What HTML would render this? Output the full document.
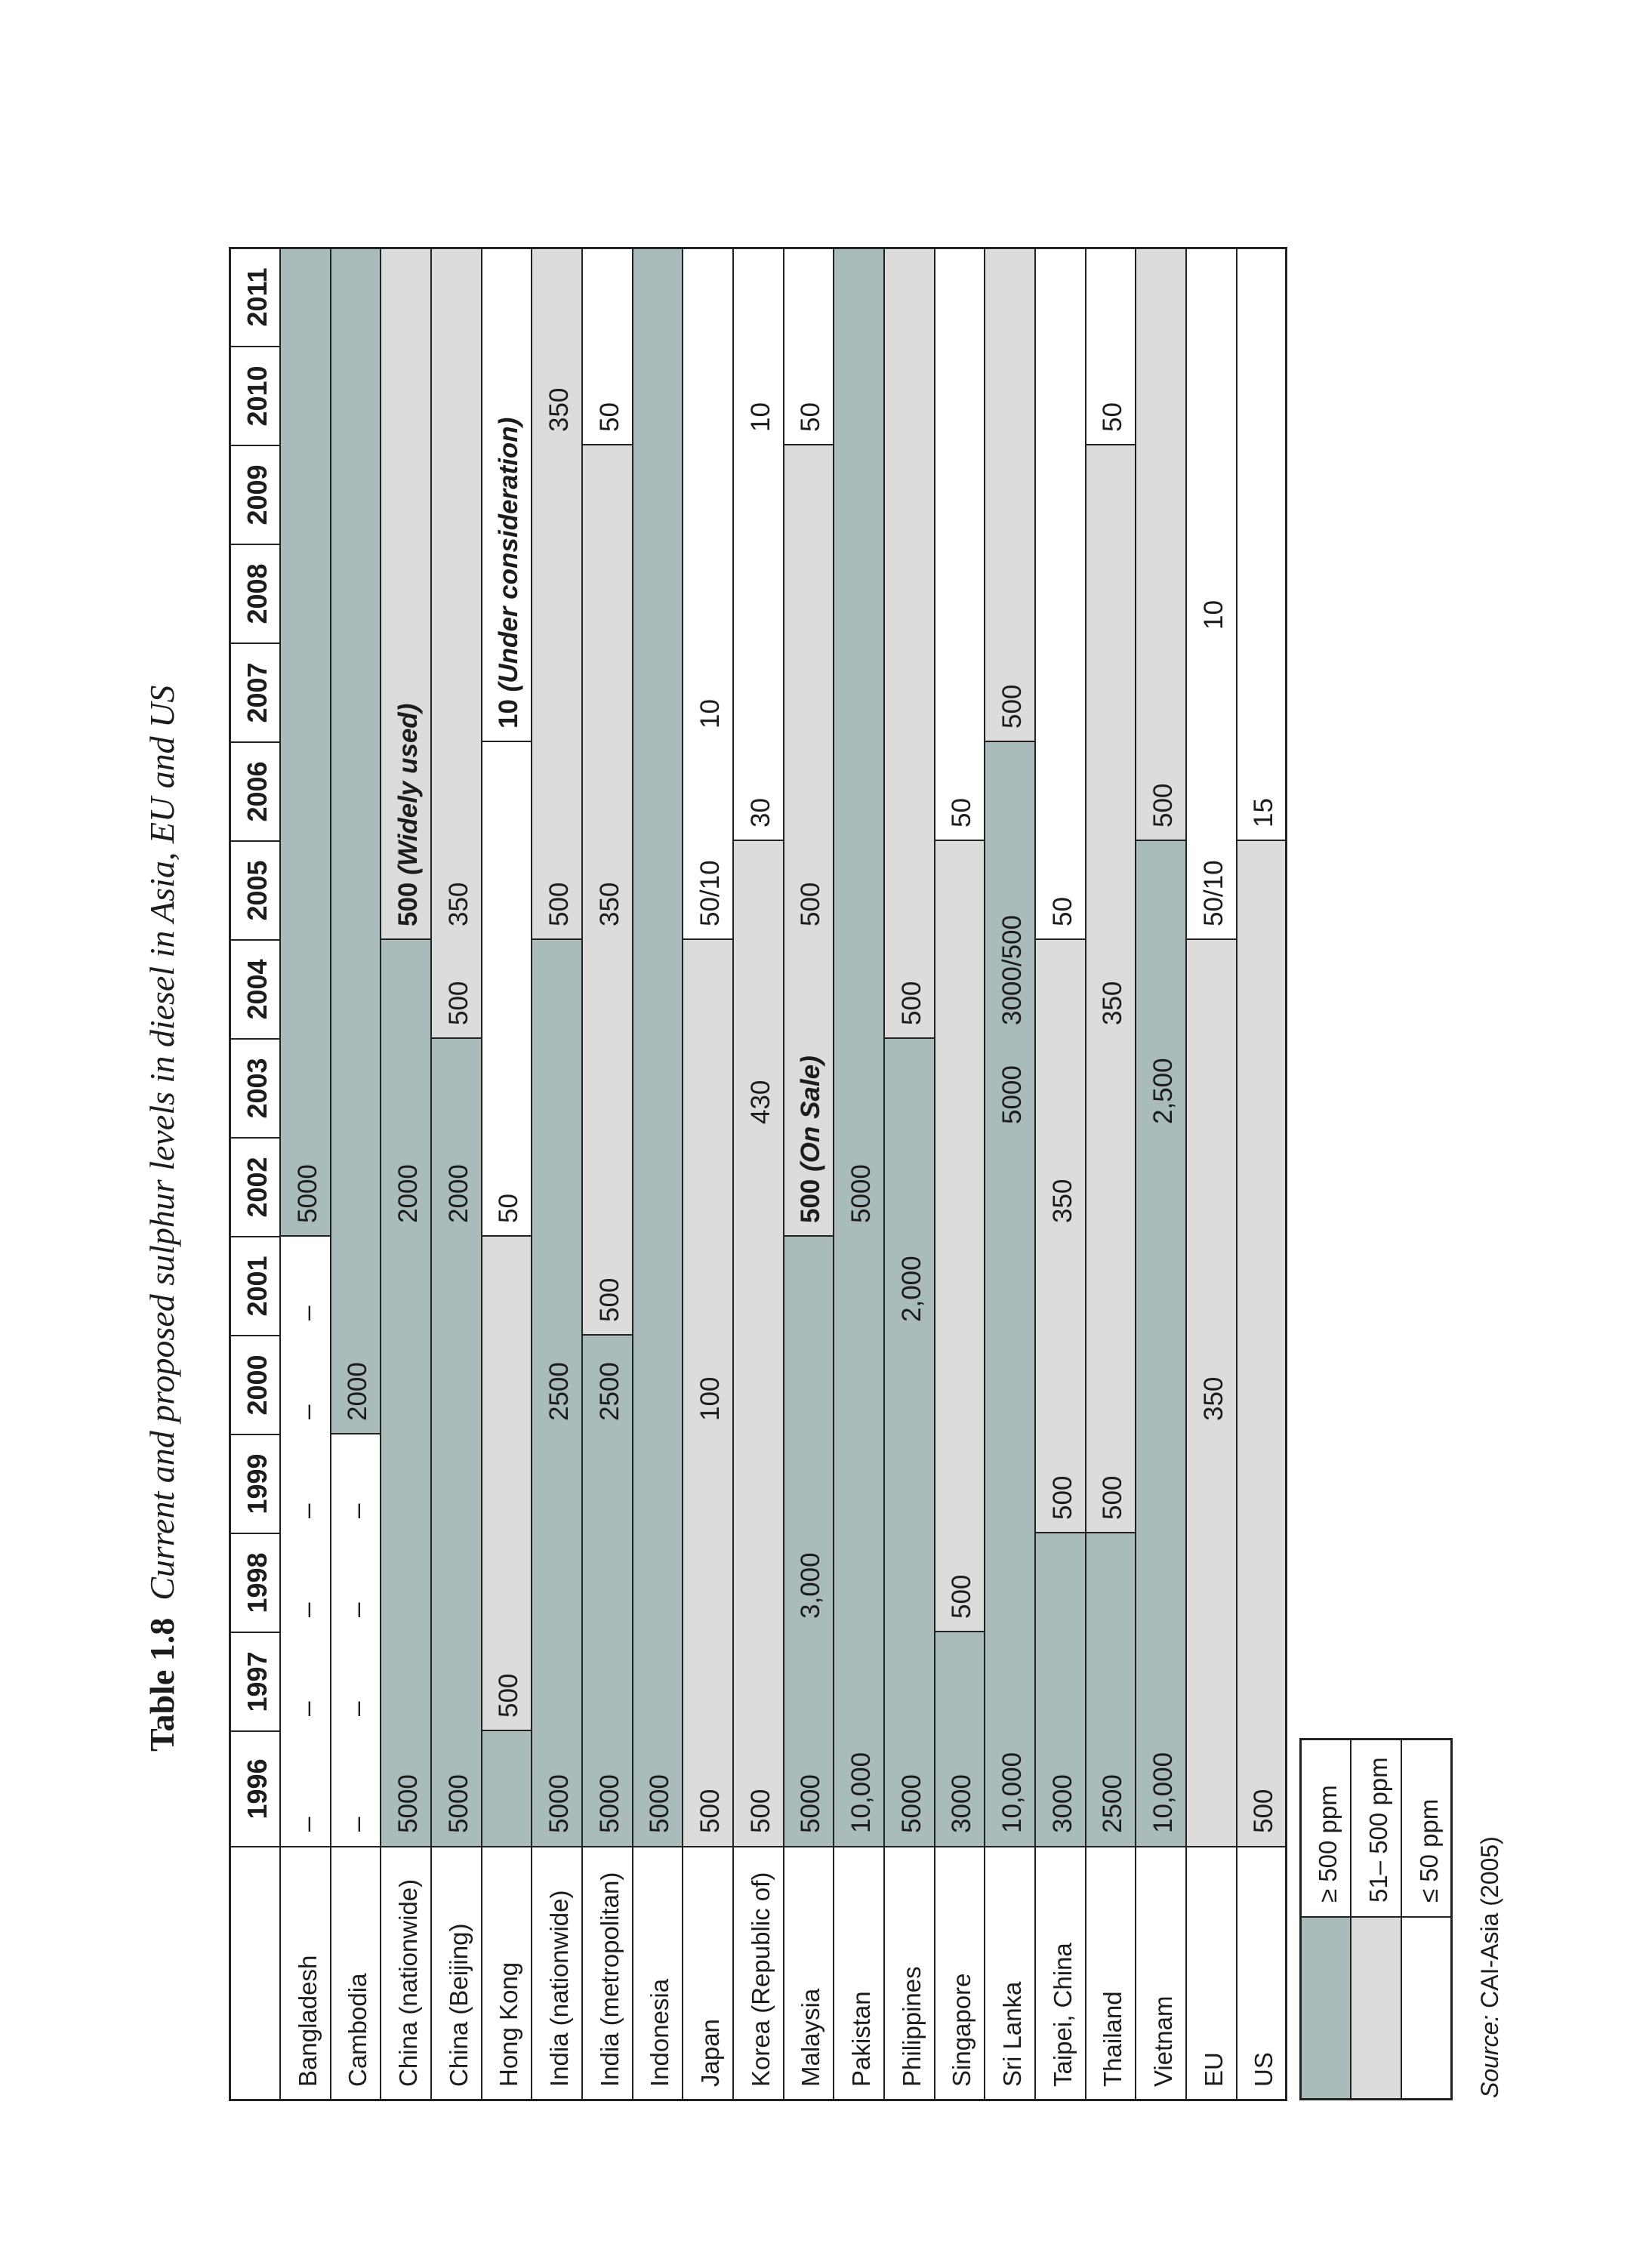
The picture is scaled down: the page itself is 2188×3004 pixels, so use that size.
<!DOCTYPE html>
<html><head><meta charset="utf-8"><style>
html,body{margin:0;padding:0;background:#fff}
body{width:2188px;height:3004px;overflow:hidden;position:relative;font-family:"Liberation Sans",sans-serif;color:#1c1c1c}
#rot{position:absolute;left:0;top:0;width:3004px;height:2188px;transform-origin:0 0;transform:translateY(3004px) rotate(-90deg)}
.r{position:absolute;left:0;width:3004px;height:66.67px}
.s{position:absolute;top:0;height:66.67px;box-sizing:border-box}
.d{background:#aabbbb}.l{background:#dcdcdc}.w{background:#fff}
.b{border-left:2px solid #222}
.t{position:absolute;top:19px;font-size:35px;line-height:36px;white-space:nowrap}
.c{font-size:33px}
.y{position:absolute;top:19px;font-size:36px;line-height:36px;font-weight:bold;text-align:center;width:131px}
.h{position:absolute;height:2px;background:#222;left:222px;width:2454px}
.v{position:absolute;width:2px;background:#222}
.bi{font-weight:bold}.bi i{font-style:italic}
</style></head><body><div id="rot">

<div style="position:absolute;left:684px;top:192px;font-family:'Liberation Serif',serif;font-size:46px;line-height:46px;white-space:nowrap"><b>Table 1.8</b>&nbsp; <i>Current and proposed sulphur levels in diesel in Asia, EU and US</i></div>

<!-- header -->
<div class="r" style="top:304px">
<span class="y" style="left:558px;width:153px">1996</span>
<span class="y" style="left:711px">1997</span><span class="y" style="left:842px">1998</span><span class="y" style="left:973px">1999</span><span class="y" style="left:1104px">2000</span><span class="y" style="left:1235px">2001</span><span class="y" style="left:1366px">2002</span><span class="y" style="left:1497px">2003</span><span class="y" style="left:1628px">2004</span><span class="y" style="left:1759px">2005</span><span class="y" style="left:1890px">2006</span><span class="y" style="left:2021px">2007</span><span class="y" style="left:2152px">2008</span><span class="y" style="left:2283px">2009</span><span class="y" style="left:2414px">2010</span><span class="y" style="left:2545px">2011</span>
</div>

<!-- Bangladesh -->
<div class="r" style="top:370.67px">
<div class="s w" style="left:558px;width:808px"></div><div class="s d b" style="left:1366px;width:1310px"></div>
<span class="t c" style="left:240px">Bangladesh</span>
<span class="t" style="left:578px">–</span><span class="t" style="left:731px">–</span><span class="t" style="left:862px">–</span><span class="t" style="left:993px">–</span><span class="t" style="left:1124px">–</span><span class="t" style="left:1255px">–</span><span class="t" style="left:1384px">5000</span>
</div>
<!-- Cambodia -->
<div class="r" style="top:437.33px">
<div class="s w" style="left:558px;width:546px"></div><div class="s d b" style="left:1104px;width:1572px"></div>
<span class="t c" style="left:240px">Cambodia</span>
<span class="t" style="left:578px">–</span><span class="t" style="left:731px">–</span><span class="t" style="left:862px">–</span><span class="t" style="left:993px">–</span><span class="t" style="left:1122px">2000</span>
</div>
<!-- China nationwide -->
<div class="r" style="top:504px">
<div class="s d" style="left:558px;width:1201px"></div><div class="s l b" style="left:1759px;width:917px"></div>
<span class="t c" style="left:240px">China (nationwide)</span>
<span class="t" style="left:576px">5000</span><span class="t" style="left:1384px">2000</span><span class="t bi" style="left:1777px">500 <i>(Widely used)</i></span>
</div>
<!-- China Beijing -->
<div class="r" style="top:570.67px">
<div class="s d" style="left:558px;width:1070px"></div><div class="s l b" style="left:1628px;width:1048px"></div>
<span class="t c" style="left:240px">China (Beijing)</span>
<span class="t" style="left:576px">5000</span><span class="t" style="left:1384px">2000</span><span class="t" style="left:1646px">500</span><span class="t" style="left:1777px">350</span>
</div>
<!-- Hong Kong -->
<div class="r" style="top:637.33px">
<div class="s d" style="left:558px;width:153px"></div><div class="s l b" style="left:711px;width:655px"></div><div class="s w b" style="left:1366px;width:655px"></div><div class="s w b" style="left:2021px;width:655px"></div>
<span class="t c" style="left:240px">Hong Kong</span>
<span class="t" style="left:729px">500</span><span class="t" style="left:1384px">50</span><span class="t bi" style="left:2039px">10 <i>(Under consideration)</i></span>
</div>
<!-- India nationwide -->
<div class="r" style="top:704px">
<div class="s d" style="left:558px;width:1201px"></div><div class="s l b" style="left:1759px;width:917px"></div>
<span class="t c" style="left:240px">India (nationwide)</span>
<span class="t" style="left:576px">5000</span><span class="t" style="left:1122px">2500</span><span class="t" style="left:1777px">500</span><span class="t" style="left:2432px">350</span>
</div>
<!-- India metropolitan -->
<div class="r" style="top:770.67px">
<div class="s d" style="left:558px;width:677px"></div><div class="s l b" style="left:1235px;width:1179px"></div><div class="s w b" style="left:2414px;width:262px"></div>
<span class="t c" style="left:240px">India (metropolitan)</span>
<span class="t" style="left:576px">5000</span><span class="t" style="left:1122px">2500</span><span class="t" style="left:1253px">500</span><span class="t" style="left:1777px">350</span><span class="t" style="left:2432px">50</span>
</div>
<!-- Indonesia -->
<div class="r" style="top:837.33px">
<div class="s d" style="left:558px;width:2118px"></div>
<span class="t c" style="left:240px">Indonesia</span>
<span class="t" style="left:576px">5000</span>
</div>
<!-- Japan -->
<div class="r" style="top:904px">
<div class="s l" style="left:558px;width:1201px"></div><div class="s w b" style="left:1759px;width:917px"></div>
<span class="t c" style="left:240px">Japan</span>
<span class="t" style="left:576px">500</span><span class="t" style="left:1122px">100</span><span class="t" style="left:1777px">50/10</span><span class="t" style="left:2039px">10</span>
</div>
<!-- Korea -->
<div class="r" style="top:970.67px">
<div class="s l" style="left:558px;width:1332px"></div><div class="s w b" style="left:1890px;width:786px"></div>
<span class="t c" style="left:240px">Korea (Republic of)</span>
<span class="t" style="left:576px">500</span><span class="t" style="left:1515px">430</span><span class="t" style="left:1908px">30</span><span class="t" style="left:2432px">10</span>
</div>
<!-- Malaysia -->
<div class="r" style="top:1037.33px">
<div class="s d" style="left:558px;width:808px"></div><div class="s l b" style="left:1366px;width:1048px"></div><div class="s w b" style="left:2414px;width:262px"></div>
<span class="t c" style="left:240px">Malaysia</span>
<span class="t" style="left:576px">5000</span><span class="t" style="left:860px">3,000</span><span class="t bi" style="left:1384px">500 <i>(On Sale)</i></span><span class="t" style="left:1777px">500</span><span class="t" style="left:2432px">50</span>
</div>
<!-- Pakistan -->
<div class="r" style="top:1104px">
<div class="s d" style="left:558px;width:2118px"></div>
<span class="t c" style="left:240px">Pakistan</span>
<span class="t" style="left:576px">10,000</span><span class="t" style="left:1384px">5000</span>
</div>
<!-- Philippines -->
<div class="r" style="top:1170.67px">
<div class="s d" style="left:558px;width:1070px"></div><div class="s l b" style="left:1628px;width:1048px"></div>
<span class="t c" style="left:240px">Philippines</span>
<span class="t" style="left:576px">5000</span><span class="t" style="left:1253px">2,000</span><span class="t" style="left:1646px">500</span>
</div>
<!-- Singapore -->
<div class="r" style="top:1237.33px">
<div class="s d" style="left:558px;width:284px"></div><div class="s l b" style="left:842px;width:1048px"></div><div class="s w b" style="left:1890px;width:786px"></div>
<span class="t c" style="left:240px">Singapore</span>
<span class="t" style="left:576px">3000</span><span class="t" style="left:860px">500</span><span class="t" style="left:1908px">50</span>
</div>
<!-- Sri Lanka -->
<div class="r" style="top:1304px">
<div class="s d" style="left:558px;width:1463px"></div><div class="s l b" style="left:2021px;width:655px"></div>
<span class="t c" style="left:240px">Sri Lanka</span>
<span class="t" style="left:576px">10,000</span><span class="t" style="left:1515px">5000</span><span class="t" style="left:1646px">3000/500</span><span class="t" style="left:2039px">500</span>
</div>
<!-- Taipei -->
<div class="r" style="top:1370.67px">
<div class="s d" style="left:558px;width:415px"></div><div class="s l b" style="left:973px;width:786px"></div><div class="s w b" style="left:1759px;width:917px"></div>
<span class="t c" style="left:240px">Taipei, China</span>
<span class="t" style="left:576px">3000</span><span class="t" style="left:991px">500</span><span class="t" style="left:1384px">350</span><span class="t" style="left:1777px">50</span>
</div>
<!-- Thailand -->
<div class="r" style="top:1437.33px">
<div class="s d" style="left:558px;width:415px"></div><div class="s l b" style="left:973px;width:1441px"></div><div class="s w b" style="left:2414px;width:262px"></div>
<span class="t c" style="left:240px">Thailand</span>
<span class="t" style="left:576px">2500</span><span class="t" style="left:991px">500</span><span class="t" style="left:1646px">350</span><span class="t" style="left:2432px">50</span>
</div>
<!-- Vietnam -->
<div class="r" style="top:1504px">
<div class="s d" style="left:558px;width:1332px"></div><div class="s l b" style="left:1890px;width:786px"></div>
<span class="t c" style="left:240px">Vietnam</span>
<span class="t" style="left:576px">10,000</span><span class="t" style="left:1515px">2,500</span><span class="t" style="left:1908px">500</span>
</div>
<!-- EU -->
<div class="r" style="top:1570.67px">
<div class="s l" style="left:558px;width:1201px"></div><div class="s w b" style="left:1759px;width:917px"></div>
<span class="t c" style="left:240px">EU</span>
<span class="t" style="left:1122px">350</span><span class="t" style="left:1777px">50/10</span><span class="t" style="left:2170px">10</span>
</div>
<!-- US -->
<div class="r" style="top:1637.33px">
<div class="s l" style="left:558px;width:1332px"></div><div class="s w b" style="left:1890px;width:786px"></div>
<span class="t c" style="left:240px">US</span>
<span class="t" style="left:576px">500</span><span class="t" style="left:1908px">15</span>
</div>

<!-- grid lines -->
<div class="h" style="top:370px"></div><div class="h" style="top:436.5px"></div><div class="h" style="top:503px"></div><div class="h" style="top:570px"></div><div class="h" style="top:636.5px"></div><div class="h" style="top:703px"></div><div class="h" style="top:770px"></div><div class="h" style="top:836.5px"></div><div class="h" style="top:903px"></div><div class="h" style="top:970px"></div><div class="h" style="top:1036.5px"></div><div class="h" style="top:1103px"></div><div class="h" style="top:1170px"></div><div class="h" style="top:1236.5px"></div><div class="h" style="top:1303px"></div><div class="h" style="top:1370px"></div><div class="h" style="top:1436.5px"></div><div class="h" style="top:1503px"></div><div class="h" style="top:1570px"></div><div class="h" style="top:1636.5px"></div>
<div class="v" style="left:557px;top:304px;height:1400px"></div>
<div class="v" style="left:710px;top:304px;height:67px"></div><div class="v" style="left:841px;top:304px;height:67px"></div><div class="v" style="left:972px;top:304px;height:67px"></div><div class="v" style="left:1103px;top:304px;height:67px"></div><div class="v" style="left:1234px;top:304px;height:67px"></div><div class="v" style="left:1365px;top:304px;height:67px"></div><div class="v" style="left:1496px;top:304px;height:67px"></div><div class="v" style="left:1627px;top:304px;height:67px"></div><div class="v" style="left:1758px;top:304px;height:67px"></div><div class="v" style="left:1889px;top:304px;height:67px"></div><div class="v" style="left:2020px;top:304px;height:67px"></div><div class="v" style="left:2151px;top:304px;height:67px"></div><div class="v" style="left:2282px;top:304px;height:67px"></div><div class="v" style="left:2413px;top:304px;height:67px"></div><div class="v" style="left:2544px;top:304px;height:67px"></div>
<div style="position:absolute;left:221px;top:303px;width:2456px;height:1402px;border:3px solid #222;box-sizing:border-box"></div>

<!-- legend -->
<div style="position:absolute;left:223px;top:1722px;width:242px;height:67px;background:#aabbbb"></div>
<div style="position:absolute;left:223px;top:1789px;width:242px;height:67px;background:#dcdcdc"></div>
<div class="h" style="left:223px;width:478px;top:1788px"></div>
<div class="h" style="left:223px;width:478px;top:1855px"></div>
<div class="v" style="left:464px;top:1722px;height:201px"></div>
<div style="position:absolute;left:222px;top:1721px;width:480px;height:203px;border:3px solid #222;box-sizing:border-box"></div>
<span class="t c" style="left:484px;top:1741px">≥ 500 ppm</span>
<span class="t c" style="left:484px;top:1808px">51– 500 ppm</span>
<span class="t c" style="left:484px;top:1875px">≤ 50 ppm</span>
<div style="position:absolute;left:225px;top:1957px;font-size:32px;line-height:32px;white-space:nowrap"><i>Source:</i> CAI-Asia (2005)</div>

</div></body></html>
